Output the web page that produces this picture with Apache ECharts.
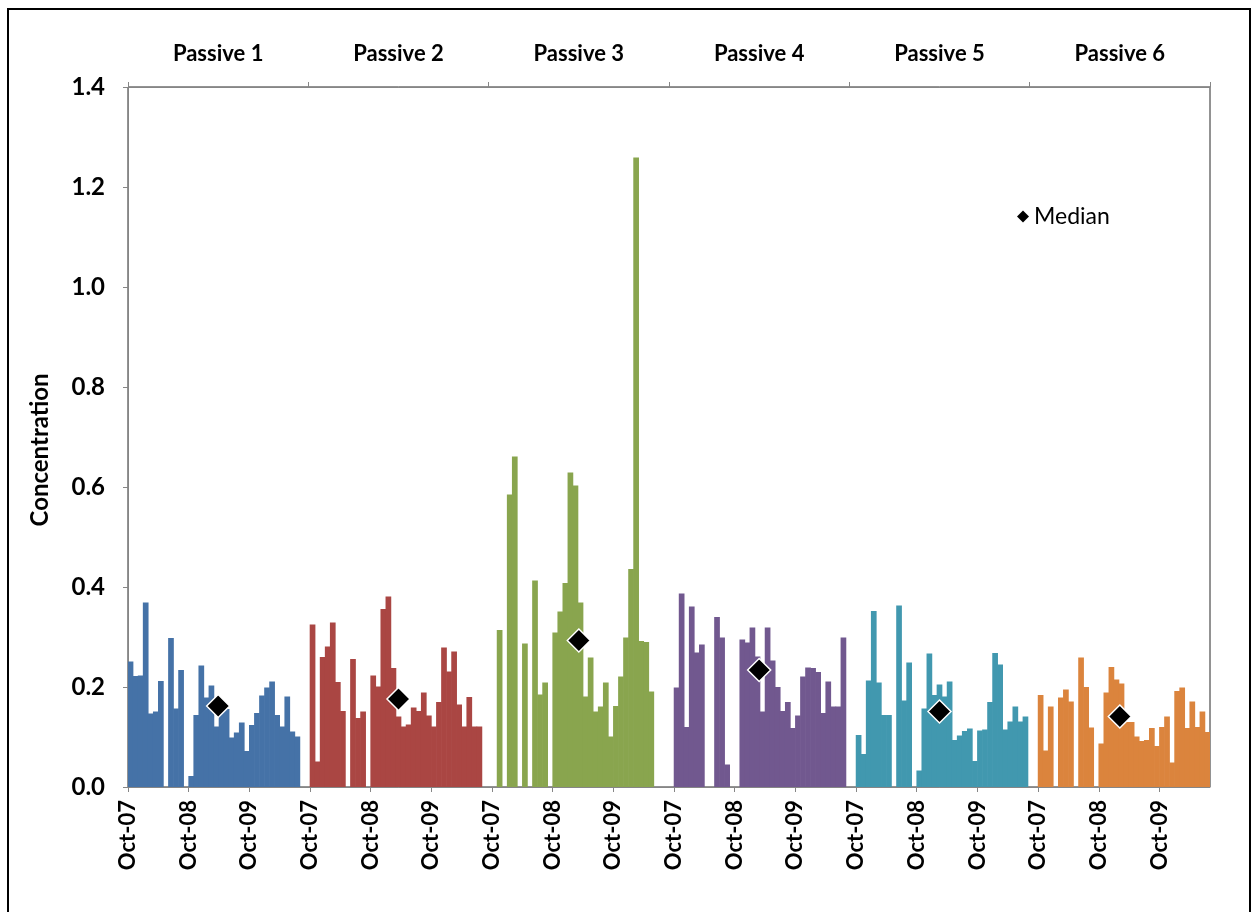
<!DOCTYPE html>
<html>
<head>
<meta charset="utf-8">
<script src="https://cdn.jsdelivr.net/npm/echarts@6/dist/echarts.min.js"></script>
<style>
  html, body { margin: 0; padding: 0; background: #fff; }
  #chart { width: 1257px; height: 912px; }
</style>
</head>
<body>
<div id="chart"></div>
<script>
// Monthly concentrations, Oct-07 onwards, one array per passive sampler (null = no sample)
const passive1 = [0.251,0.222,0.223,0.369,0.147,0.151,0.212,null,0.298,0.157,0.234,null,0.022,0.144,0.243,0.179,0.203,0.121,0.165,0.156,0.099,0.109,0.129,0.072,0.124,0.148,0.183,0.199,0.211,0.144,0.121,0.181,0.111,0.101,null,null];
const passive2 = [0.325,0.051,0.260,0.281,0.329,0.210,0.152,null,0.256,0.138,0.151,null,0.223,0.201,0.356,0.381,0.238,0.141,0.121,0.125,0.159,0.152,0.189,0.143,0.121,0.170,0.279,0.231,0.271,0.165,0.121,0.180,0.121,0.121,null,null];
const passive3 = [null,0.314,null,0.585,0.661,null,0.287,null,0.413,0.185,0.209,null,0.309,0.351,0.408,0.629,0.603,0.369,0.181,0.259,0.151,0.161,0.209,0.101,0.162,0.221,0.299,0.436,1.259,0.292,0.290,0.191,null,null,null,null];
const passive4 = [0.199,0.387,0.120,0.361,0.269,0.285,null,null,0.340,0.299,0.045,null,null,0.295,0.289,0.319,0.261,0.151,0.319,0.253,0.200,0.152,0.170,0.118,0.143,0.221,0.239,0.238,0.230,0.148,0.211,0.161,0.161,0.299,null,null];
const passive5 = [0.104,0.066,0.213,0.352,0.209,0.144,0.144,null,0.363,0.173,0.249,null,0.033,0.157,0.267,0.184,0.205,0.181,0.211,0.094,0.103,0.112,0.117,0.052,0.113,0.115,0.170,0.268,0.245,0.115,0.131,0.161,0.131,0.141,null,null];
const passive6 = [0.184,0.073,0.161,null,0.179,0.195,0.171,null,0.259,0.200,0.119,null,0.087,0.189,0.240,0.215,0.207,0.130,0.130,0.101,0.092,0.094,0.118,0.082,0.120,0.141,0.049,0.192,0.199,0.118,0.171,0.120,0.151,0.110];

const samplerNames = ['Passive 1','Passive 2','Passive 3','Passive 4','Passive 5','Passive 6'];
const medians = [0.162, 0.176, 0.293, 0.234, 0.151, 0.141];
const yearTickLabels = ['Oct-07','Oct-08','Oct-09'];
const monthNames = ['Oct','Nov','Dec','Jan','Feb','Mar','Apr','May','Jun','Jul','Aug','Sep'];
const colors = ['#4572A7','#AA4643','#89A54E','#71588F','#4198AF','#DB843D'];

const monthsPerBlock = 36;
const totalSlots = 214;
const FONT = 'Lato, "Open Sans", sans-serif';

const series6 = [passive1, passive2, passive3, passive4, passive5, passive6];

// Category labels for every month slot
const categories = [];
for (let i = 0; i < totalSlots; i++) {
  const m = i % monthsPerBlock;
  const yr = 7 + Math.floor((m + 9) / 12);
  categories.push(monthNames[m % 12] + '-' + String(yr).padStart(2, '0'));
}

// Bars are a touch wider than a month slot so neighbouring months join without seams
const barSeries = series6.map((vals, g) => {
  const data = new Array(totalSlots).fill(null);
  vals.forEach((v, i) => {
    const idx = g * monthsPerBlock + i;
    if (idx < totalSlots) data[idx] = v;
  });
  return {
    name: samplerNames[g],
    type: 'bar',
    xAxisIndex: 0,
    data: data,
    barGap: '-100%',
    barWidth: 5.7,
    itemStyle: { color: colors[g], opacity: 1 },
    silent: true
  };
});

// Medians sit at the centre of each sampler's block on the top axis
const medianSeries = {
  name: 'Median',
  type: 'scatter',
  xAxisIndex: 2,
  symbol: 'diamond',
  symbolSize: 23,
  itemStyle: { color: '#000', borderColor: '#fff', borderWidth: 1.5, opacity: 1 },
  data: medians.map((v, g) => [samplerNames[g], v]),
  z: 5
};

const axisGray = '#868686';

const option = {
  animation: false,
  backgroundColor: '#fff',
  textStyle: { fontFamily: FONT },
  grid: {
    left: 128, right: 47, top: 87, bottom: 125,
    show: true, borderColor: '#262626', borderWidth: 1, backgroundColor: 'transparent'
  },
  legend: {
    data: ['Median'],
    left: 1012, top: 200,
    icon: 'diamond',
    itemWidth: 12, itemHeight: 12, itemGap: 6,
    textStyle: { fontSize: 23, color: '#000', fontFamily: FONT },
    itemStyle: { color: '#000', borderWidth: 0, opacity: 1 }
  },
  xAxis: [
    {
      type: 'category',
      data: categories,
      position: 'bottom',
      boundaryGap: true,
      axisLine: { show: false },
      axisTick: { show: false },
      axisLabel: { show: false },
      splitLine: { show: false }
    },
    {
      type: 'value',
      position: 'bottom',
      min: 0, max: totalSlots, interval: 12,
      axisLine: { show: true, lineStyle: { color: axisGray, width: 1 } },
      axisTick: { show: true, length: 5, lineStyle: { color: axisGray } },
      splitLine: { show: false },
      axisLabel: {
        rotate: 90,
        margin: 13,
        fontSize: 22,
        fontWeight: 'bold',
        color: '#000',
        fontFamily: FONT,
        showMaxLabel: false,
        formatter: function (v) {
          if (v % 12 !== 0 || v >= totalSlots) return '';
          return yearTickLabels[(v / 12) % 3];
        }
      }
    },
    {
      type: 'category',
      data: samplerNames,
      position: 'top',
      boundaryGap: true,
      axisLine: { show: true, lineStyle: { color: axisGray, width: 1 } },
      axisTick: { show: true, length: 5, interval: 0, lineStyle: { color: axisGray } },
      axisLabel: {
        margin: 22,
        fontSize: 22,
        fontWeight: 'bold',
        color: '#000',
        fontFamily: FONT,
        interval: 0
      },
      splitLine: { show: false }
    }
  ],
  yAxis: {
    type: 'value',
    min: 0, max: 1.4, interval: 0.2,
    axisLine: { show: true, lineStyle: { color: axisGray, width: 1 } },
    axisTick: { show: true, length: 5, lineStyle: { color: axisGray } },
    splitLine: { show: false },
    axisLabel: {
      margin: 23,
      fontSize: 24,
      fontWeight: 'bold',
      color: '#000',
      fontFamily: FONT,
      formatter: v => v.toFixed(1)
    }
  },
  graphic: [
    {
      type: 'rect',
      shape: { x: 8, y: 9, width: 1242, height: 1000 },
      style: { fill: 'none', stroke: '#000', lineWidth: 2 },
      silent: true
    },
    {
      type: 'text',
      x: 40, y: 450,
      rotation: Math.PI / 2,
      style: {
        text: 'Concentration',
        fontSize: 24,
        fontWeight: 'bold',
        fontFamily: FONT,
        fill: '#000',
        align: 'center',
        verticalAlign: 'middle'
      },
      silent: true
    }
  ],
  series: barSeries.concat([medianSeries])
};

const chart = echarts.init(document.getElementById('chart'), null, { renderer: 'canvas' });
chart.setOption(option);
</script>
</body>
</html>
